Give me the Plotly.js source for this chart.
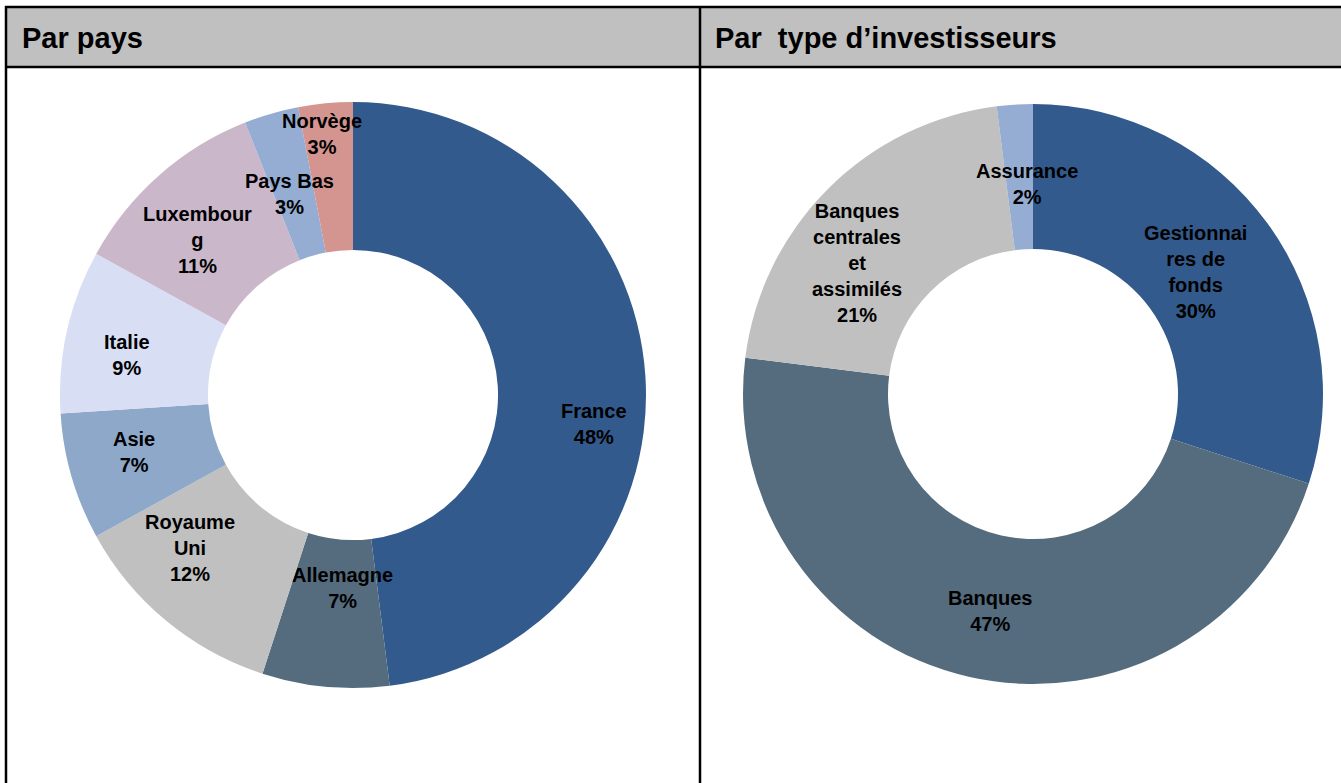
<!DOCTYPE html>
<html>
<head>
<meta charset="utf-8">
<script src="https://cdn.plot.ly/plotly-3.0.1.min.js"></script>
<style>
html,body{margin:0;padding:0;background:#fff;}
#chart{width:1341px;height:783px;}
</style>
</head>
<body>
<div id="chart"></div>
<script>
// ---- Data ----
var paysLabels = ["France", "Allemagne", "Royaume<br>Uni", "Asie", "Italie", "Luxembour<br>g", "Pays Bas", "Norvège"];
var paysValues = [48, 7, 12, 7, 9, 11, 3, 3];
var paysColors = ["#335A8C", "#546C7E", "#C0C0C0", "#8EA8CA", "#D8DEF3", "#CBB7CA", "#95ADD2", "#D49490"];

var typeLabels = ["Gestionnai<br>res de<br>fonds", "Banques", "Banques<br>centrales<br>et<br>assimilés", "Assurance"];
var typeValues = [30, 47, 21, 2];
var typeColors = ["#335A8C", "#546C7E", "#C0C0C0", "#95ADD2"];

var panelTitles = ["Par pays", "Par  type d\u2019investisseurs"];

// ---- Layout geometry (pixels) ----
var W = 1341, H = 783;
function px(x){ return x / W; }
function py(y){ return 1 - y / H; }

// label nudges (pixels) from the slice mid-point, to follow the original label placement
var paysNudge = [[22, 43], [10, -25], [-23, -16], [-9, -4], [-12, 8], [-11, 9], [-2, 9], [-10, -43]];
var typeNudge = [[-13, 6], [4, 5], [-22, 23], [8, 7]];

var pies = [
  {cx: 353, cy: 395, r: 293, hole: 0.495, labels: paysLabels, values: paysValues, colors: paysColors, nudge: paysNudge},
  {cx: 1033, cy: 394, r: 290, hole: 0.5, labels: typeLabels, values: typeValues, colors: typeColors, nudge: typeNudge}
];

var traces = [];
var annotations = [];
var font = "Liberation Sans, Arial, sans-serif";

pies.forEach(function(p){
  traces.push({
    type: "pie",
    labels: p.labels,
    values: p.values,
    marker: {colors: p.colors, line: {width: 0}},
    hole: p.hole,
    sort: false,
    direction: "clockwise",
    rotation: 0,
    textinfo: "none",
    hoverinfo: "skip",
    showlegend: false,
    domain: {x: [px(p.cx - p.r), px(p.cx + p.r)], y: [py(p.cy + p.r), py(p.cy - p.r)]}
  });
  var total = p.values.reduce(function(a,b){return a+b;}, 0);
  var cum = 0;
  var rMid = p.r * (1 + p.hole) / 2;
  p.values.forEach(function(v, i){
    var mid = (cum + v / 2) / total;
    cum += v;
    var a = mid * 2 * Math.PI;
    var x = p.cx + rMid * Math.sin(a) + p.nudge[i][0];
    var y = p.cy - rMid * Math.cos(a) + p.nudge[i][1];
    annotations.push({
      xref: "paper", yref: "paper", x: px(x), y: py(y),
      xanchor: "center", yanchor: "middle", showarrow: false, align: "center",
      text: "<b>" + p.labels[i] + "<br>" + Math.round(v / total * 100) + "%</b>",
      font: {family: font, size: 20, color: "#000"}
    });
  });
});

// Panel titles
annotations.push({xref:"paper", yref:"paper", x: px(20), y: py(38), xanchor:"left", yanchor:"middle",
  showarrow:false, text:"<b>" + panelTitles[0] + "</b>", font:{family: font, size: 29, color:"#000"}});
annotations.push({xref:"paper", yref:"paper", x: px(713), y: py(38), xanchor:"left", yanchor:"middle",
  showarrow:false, text:"<b>" + panelTitles[1] + "</b>", font:{family: font, size: 29, color:"#000"}});

var shapes = [
  {type:"rect", xref:"paper", yref:"paper", x0: px(6), x1: 1, y0: py(67), y1: py(7), fillcolor:"#C0C0C0", line:{width:0}, layer:"below"},
  {type:"line", xref:"paper", yref:"paper", x0: px(5), x1: 1, y0: py(7), y1: py(7), line:{color:"#000", width:2.5}},
  {type:"line", xref:"paper", yref:"paper", x0: px(5), x1: 1, y0: py(67), y1: py(67), line:{color:"#000", width:2.5}},
  {type:"line", xref:"paper", yref:"paper", x0: px(6), x1: px(6), y0: py(6), y1: 0, line:{color:"#000", width:2.5}},
  {type:"line", xref:"paper", yref:"paper", x0: px(700), x1: px(700), y0: py(6), y1: 0, line:{color:"#000", width:2.5}}
];

var layout = {
  width: W, height: H,
  margin: {l:0, r:0, t:0, b:0, pad:0},
  paper_bgcolor: "#FFFFFF",
  plot_bgcolor: "#FFFFFF",
  showlegend: false,
  annotations: annotations,
  shapes: shapes
};

Plotly.newPlot("chart", traces, layout, {displayModeBar: false, staticPlot: true});
</script>
</body>
</html>
